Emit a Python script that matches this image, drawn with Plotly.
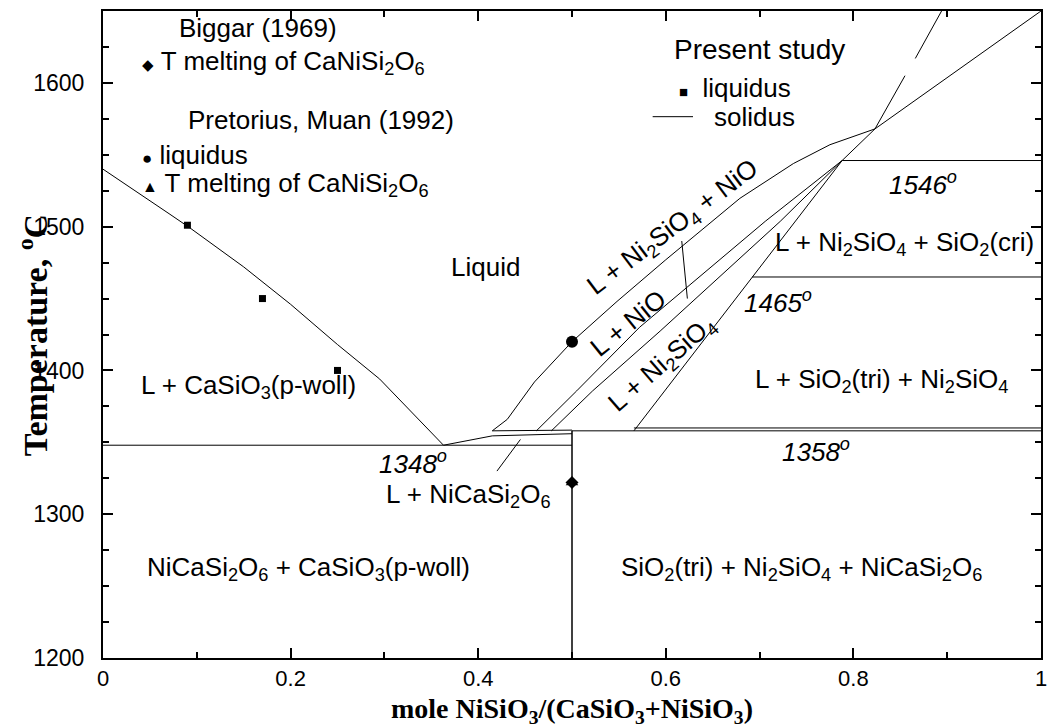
import plotly.graph_objects as go

# ---- data (mole fraction NiSiO3, temperature in C) ----
left_liq_x = [0, 0.03, 0.0714, 0.093, 0.15, 0.2, 0.25, 0.295, 0.338, 0.363]
left_liq_T = [1540, 1527, 1508.6, 1499, 1472, 1446, 1418, 1394, 1365, 1348]

nicasi_liq_x = [0.363, 0.415, 0.5]
nicasi_liq_T = [1348, 1354.5, 1356]

peri_x = [0.415, 0.5]
peri_T = [1358, 1358.5]

upper_x = [0.415, 0.431, 0.46, 0.5, 0.548, 0.60, 0.679, 0.736, 0.775, 0.823]
upper_T = [1358, 1366, 1392, 1420, 1448, 1477, 1519.7, 1543.9, 1557, 1568]

line2_x = [0.462, 0.473, 0.505, 0.572, 0.706, 0.788]
line2_T = [1358, 1365, 1385.8, 1430, 1503.7, 1546]

line3_x = [0.478, 0.489, 0.522, 0.594, 0.722, 0.788]
line3_T = [1358, 1365, 1385.8, 1427.4, 1503.7, 1546]

line4_x = [0.566, 0.788]
line4_T = [1358, 1546]

corner_x = [0.788, 0.823]
corner_T = [1546, 1568]

top_liq_x = [0.823, 1.0]
top_liq_T = [1568, 1650]

steep1_x = [0.823, 0.855]
steep1_T = [1568, 1605]
steep2_x = [0.866, 0.894]
steep2_T = [1617, 1650]

h1348_x = [0, 0.5]
h1348_T = [1348, 1348]
h1358_x = [0.5, 1.0]
h1358_T = [1358, 1358]
h1360_x = [0.566, 1.0]
h1360_T = [1360, 1360]
h1465_x = [0.692, 1.0]
h1465_T = [1465, 1465]
h1546_x = [0.788, 1.0]
h1546_T = [1546, 1546]
vert_x = [0.5, 0.5]
vert_T = [1200, 1358]

leader1_x = [0.617, 0.623]
leader1_T = [1490, 1450]
leader2_x = [0.42, 0.445]
leader2_T = [1330, 1352]

present_liq_x = [0.09, 0.17, 0.25]
present_liq_T = [1501, 1450, 1400]
pm_liq_x = [0.5]
pm_liq_T = [1420]
melt_x = [0.5]
melt_T = [1322]

x_tickvals = [0, 0.2, 0.4, 0.6, 0.8, 1.0]
x_ticktext = ["0", "0.2", "0.4", "0.6", "0.8", "1"]
y_tickvals = [1200, 1300, 1400, 1500, 1600]
y_ticktext = ["1200", "1300", "1400", "1500", "1600"]

fig = go.Figure()

def add_line(x, y, width=1):
    fig.add_trace(go.Scatter(x=x, y=y, mode="lines",
                             line=dict(color="black", width=width),
                             hoverinfo="skip", showlegend=False))

for xs, ys in [(left_liq_x, left_liq_T), (nicasi_liq_x, nicasi_liq_T), (peri_x, peri_T),
               (upper_x, upper_T), (line2_x, line2_T), (line3_x, line3_T),
               (line4_x, line4_T), (corner_x, corner_T), (top_liq_x, top_liq_T),
               (steep1_x, steep1_T), (steep2_x, steep2_T),
               (h1348_x, h1348_T), (h1358_x, h1358_T), (h1360_x, h1360_T),
               (h1465_x, h1465_T), (h1546_x, h1546_T),
               (leader1_x, leader1_T), (leader2_x, leader2_T)]:
    add_line(xs, ys)
add_line(vert_x, vert_T, width=1.5)

fig.add_trace(go.Scatter(x=present_liq_x, y=present_liq_T, mode="markers",
                         marker=dict(symbol="square", size=7, color="black"),
                         showlegend=False))
fig.add_trace(go.Scatter(x=pm_liq_x, y=pm_liq_T, mode="markers",
                         marker=dict(symbol="circle", size=12, color="black"),
                         showlegend=False))
fig.add_trace(go.Scatter(x=melt_x, y=melt_T, mode="markers",
                         marker=dict(symbol="diamond", size=10, color="black"),
                         showlegend=False))
fig.add_trace(go.Scatter(x=melt_x, y=melt_T, mode="markers",
                         marker=dict(symbol="triangle-up", size=11, color="black"),
                         showlegend=False))

FONT = "Liberation Sans, Arial, sans-serif"
FS = 26

def ann(text, x, y, xanchor="center", angle=0, size=FS, italic=False):
    fig.add_annotation(x=x, y=y, xref="x", yref="y", text=text, showarrow=False,
                       xanchor=xanchor, yanchor="middle", textangle=angle,
                       font=dict(family=FONT, size=size, color="black",
                                 style="italic" if italic else "normal"))

ann("Biggar (1969)", 0.165, 1638)
ann("<span style='font-size:15px'>◆</span> T melting of CaNiSi<sub>2</sub>O<sub>6</sub>", 0.039, 1614, xanchor="left")
ann("Pretorius, Muan (1992)", 0.0885, 1574, xanchor="left")
ann("<span style='font-size:17px'>●</span> liquidus", 0.039, 1550, xanchor="left")
ann("<span style='font-size:16px'>▲</span> T melting of CaNiSi<sub>2</sub>O<sub>6</sub>", 0.039, 1529, xanchor="left")

ann("Present study", 0.70, 1623, size=28)
ann("<span style='font-size:15px'>■</span>  liquidus", 0.612, 1596.6, xanchor="left")
ann("solidus", 0.649, 1576.5, xanchor="left")
fig.add_shape(type="line", x0=0.586, x1=0.629, y0=1576.5, y1=1576.5,
              xref="x", yref="y", line=dict(color="black", width=1))

ann("Liquid", 0.408, 1472)
ann("L + CaSiO<sub>3</sub>(p-woll)", 0.155, 1389)
ann("NiCaSi<sub>2</sub>O<sub>6</sub> + CaSiO<sub>3</sub>(p-woll)", 0.045, 1262, xanchor="left")
ann("L + NiCaSi<sub>2</sub>O<sub>6</sub>", 0.39, 1313)
ann("1348<sup>o</sup>", 0.33, 1336, italic=True)
ann("1358<sup>o</sup>", 0.76, 1344, italic=True)
ann("SiO<sub>2</sub>(tri) + Ni<sub>2</sub>SiO<sub>4</sub> + NiCaSi<sub>2</sub>O<sub>6</sub>", 0.745, 1262)
ann("L + SiO<sub>2</sub>(tri) + Ni<sub>2</sub>SiO<sub>4</sub>", 0.83, 1393)
ann("L + Ni<sub>2</sub>SiO<sub>4</sub> + SiO<sub>2</sub>(cri)", 0.995, 1488, xanchor="right")
ann("1465<sup>o</sup>", 0.72, 1448, italic=True)
ann("1546<sup>o</sup>", 0.874, 1530, italic=True)

ann("L + Ni<sub>2</sub>SiO<sub>4</sub> + NiO", 0.608, 1499.5, angle=-37)
ann("L + NiO", 0.56, 1433, angle=-39)
ann("L + Ni<sub>2</sub>SiO<sub>4</sub>", 0.596, 1404, angle=-41)

fig.add_annotation(x=-0.0746, y=0.499, xref="paper", yref="paper", showarrow=False,
                   xanchor="center", yanchor="middle",
                   text="Temperature, <sup>o</sup>C", textangle=-90,
                   font=dict(family="Liberation Serif, Times New Roman, serif", size=34, color="black", weight="bold"))
fig.add_annotation(x=0.5, y=-0.081, xref="paper", yref="paper", showarrow=False,
                   xanchor="center", yanchor="middle",
                   text="mole NiSiO<sub>3</sub>/(CaSiO<sub>3</sub>+NiSiO<sub>3</sub>)",
                   font=dict(family="Liberation Serif, Times New Roman, serif", size=28, color="black", weight="bold"))

fig.update_layout(
    width=1058, height=727,
    margin=dict(l=103, r=17, t=9, b=69),
    paper_bgcolor="white", plot_bgcolor="white",
    showlegend=False,
    xaxis=dict(range=[0, 1], tickmode="array", tickvals=x_tickvals, ticktext=x_ticktext,
               ticks="inside", ticklen=10, ticklabelstandoff=0,
               tickwidth=1.5, tickcolor="black", showline=True, linewidth=2,
               linecolor="black", mirror="ticks", showgrid=False, zeroline=False,
               minor=dict(ticks="inside", dtick=0.1, tick0=0, ticklen=6, tickcolor="black", tickwidth=1.5),
               tickfont=dict(family="Liberation Sans Narrow, Arial Narrow, Liberation Sans, sans-serif", size=22, color="black")),
    yaxis=dict(range=[1200, 1650], tickmode="array", tickvals=y_tickvals, ticktext=y_ticktext,
               ticks="inside", ticklen=10, ticklabelstandoff=12,
               tickwidth=1.5, tickcolor="black", showline=True, linewidth=2,
               linecolor="black", mirror="ticks", showgrid=False, zeroline=False,
               minor=dict(ticks="inside", dtick=25, tick0=1200, ticklen=6, tickcolor="black", tickwidth=1.5),
               tickfont=dict(family=FONT, size=23, color="black")),
)

fig.write_html("out.html")
